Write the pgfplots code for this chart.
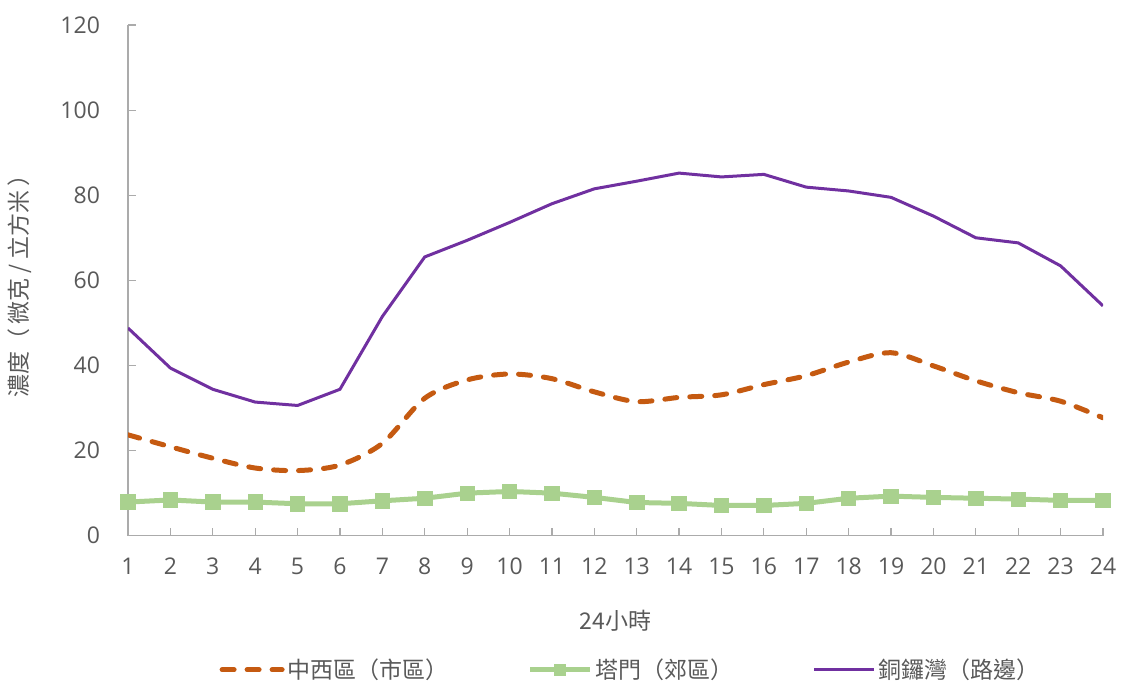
\documentclass[border=0pt]{standalone}
\usepackage{fontspec}
\setmainfont{Open Sans}
\newfontfamily\cjk{Noto Sans CJK TC}
\usepackage{pgfplots}
\pgfplotsset{compat=1.18}

\definecolor{txtgray}{HTML}{595959}
\definecolor{axgray}{HTML}{ABABAB}
\definecolor{csorange}{HTML}{C55A11}
\definecolor{tmgreen}{HTML}{A9D18E}
\definecolor{cbpurple}{HTML}{7030A0}

\pgfplotstableread{
hour cw tm cb
1  23.7  7.9 48.8
2  20.9  8.4 39.4
3  18.2  7.9 34.4
4  15.9  7.9 31.4
5  15.3  7.5 30.6
6  16.6  7.5 34.4
7  21.7  8.2 51.5
8  32.3  8.8 65.5
9  36.6 10.0 69.4
10 38.0 10.4 73.6
11 36.9 10.0 78.0
12 33.8  9.0 81.5
13 31.5  7.8 83.3
14 32.5  7.6 85.2
15 33.1  7.1 84.3
16 35.5  7.1 84.9
17 37.6  7.6 81.9
18 40.8  8.8 81.0
19 43.0  9.3 79.5
20 39.9  9.0 75.1
21 36.4  8.8 70.0
22 33.6  8.6 68.8
23 31.6  8.3 63.4
24 27.7  8.3 54.0
}\hourly

\begin{document}
\begin{tikzpicture}
\path[use as bounding box] (0,0) rectangle (561pt,342pt);
\begin{axis}[
  at={(64pt,74.15pt)}, anchor=south west,
  scale only axis,
  width=487.5pt, height=255.35pt,
  xmin=1, xmax=24, ymin=0, ymax=120,
  xtick={1,...,24},
  ytick={0,20,...,120},
  axis lines=left,
  axis line style={-, draw=axgray, line width=0.6pt},
  tick style={draw=axgray, line width=0.6pt},
  tick align=inside,
  major tick length=4pt,
  /pgf/number format/assume math mode=true,
  tick label style={font=\fontsize{11.5}{14}\selectfont, text=txtgray},
  xticklabel style={yshift=-7.5pt},
  yticklabel style={xshift=-10.5pt},
  xlabel={\fontsize{11.5}{14}\selectfont\cjk 24小時},
  ylabel={\fontsize{11.5}{14}\selectfont\cjk 濃度（\,微克 / 立方米\,）},
  every axis x label/.style={at={(axis description cs:0.5,-0.1664)}, anchor=center, text=txtgray},
  every axis y label/.style={at={(axis description cs:-0.1108,0.5)}, rotate=90, anchor=center, text=txtgray},
  legend columns=3,
  legend style={
    at={(axis description cs:0.516,-0.2624)}, anchor=center,
    draw=none, fill=none,
    font=\fontsize{11.5}{14}\selectfont\cjk, text=txtgray,
    nodes={inner sep=1.5pt},
    /tikz/every even column/.append style={column sep=38pt},
  },
  legend image code/.code={
    \draw[mark repeat=2, mark phase=2, #1] plot coordinates {(0pt,0pt) (15pt,0pt) (30pt,0pt)};
  },
  legend image post style={mark size=2.8pt},
]
\addplot[csorange, line width=2.5pt, smooth, line cap=round, dash pattern=on 6pt off 6.5pt]
  table[x=hour, y=cw] {\hourly};
\addplot[tmgreen, line width=2.5pt, mark=square*, mark size=3.6pt, mark options={solid, fill=tmgreen, draw=tmgreen, line width=0.4pt}]
  table[x=hour, y=tm] {\hourly};
\addplot[cbpurple, line width=1.5pt]
  table[x=hour, y=cb] {\hourly};
\legend{中西區（市區）, 塔門（郊區）, 銅鑼灣（路邊）}
\end{axis}
\end{tikzpicture}
\end{document}
